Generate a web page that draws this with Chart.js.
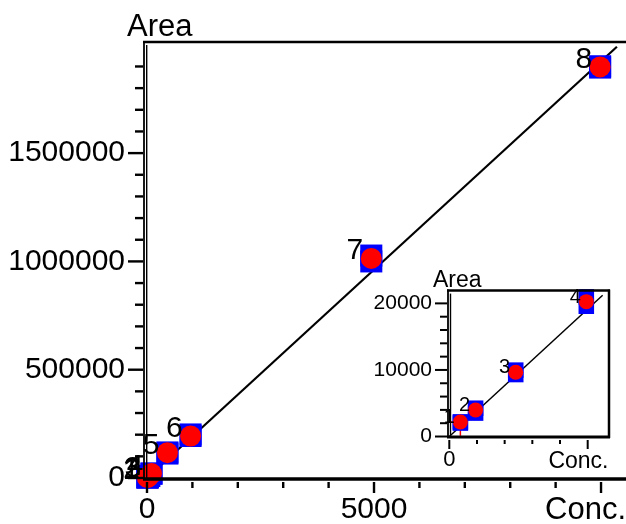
<!DOCTYPE html>
<html>
<head>
<meta charset="utf-8">
<script src="https://cdn.jsdelivr.net/npm/chart.js@4.4.1/dist/chart.umd.min.js"></script>
<style>
body { margin: 0; background: #fff; overflow: hidden; }
#wrap { position: relative; width: 626px; height: 524px; }
#main { position: absolute; left: 0; top: 0; }
#inset { position: absolute; left: 360px; top: 262px; }
</style>
</head>
<body>
<div id="wrap">
<canvas id="main" width="626" height="524"></canvas>
<canvas id="inset" width="266" height="210"></canvas>
</div>
<script>
var pointNames = ['1', '2', '3', '4', '5', '6', '7', '8'];
var conc = [8, 19, 48, 99, 450, 960, 4940, 9980];
var areaMean = [2170, 3990, 9650, 20260, 117000, 194000, 1014000, 1898000];
var areaRep1 = [2200, 4250, 9970, 20970, 118000, 201000, 1027000, 1901000];
var areaRep2 = [2020, 3520, 9310, 19570, 113000, 194000, 1000000, 1895000];

var fitConc = [0, 10350];
var fitArea = [0, 1991000];
var insetFitConc = [0, 110.8];
var insetFitArea = [0, 21230];

// whiskers of point 1 (inset)
var errConc = [-1.2, 8];
var errArea = [100, 2170];

var mainXLabels = [0, 5000];
var mainYLabels = [0, 500000, 1000000, 1500000];
var insetXLabels = [0];
var insetYLabels = [0, 10000, 20000];
var insetCount = 4;

var fam = "'Liberation Sans', Arial, sans-serif";

function pts(xs, ys) {
	return xs.map(function(v, i) { return {x: v, y: ys[i]}; });
}

var frame = {
	id: 'frame',
	afterDatasetsDraw: function(chart, args, o) {
		var ctx = chart.ctx, a = chart.chartArea, xs = chart.scales.x, ys = chart.scales.y;
		ctx.save();
		ctx.strokeStyle = '#000';
		ctx.lineCap = 'butt';
		function seg(x1, y1, x2, y2, w) {
			ctx.lineWidth = w;
			ctx.beginPath();
			ctx.moveTo(x1, y1);
			ctx.lineTo(x2, y2);
			ctx.stroke();
		}
		seg(a.left - 1, a.top, a.right + (o.right ? 1 : 0), a.top, o.borderW);
		if (o.right) seg(a.right, a.top - 1, a.right, a.bottom + 1, o.borderW);
		seg(a.left - 1, a.bottom, a.right + (o.right ? 1 : 0), a.bottom, o.axisW);
		seg(a.left, a.top - 1, a.left, a.bottom + 1, 1.8);
		seg(a.left + o.gap, a.top + 3, a.left + o.gap, a.bottom, 1.4);

		var v, p;
		for (v = 0; v <= o.yMax; v += o.yStep) {
			p = ys.getPixelForValue(v);
			seg(a.left - 1, p, a.left - (o.yMajor.indexOf(v) >= 0 ? o.yMajorLen : o.yMinorLen), p, o.tickW);
		}
		for (v = 0; v <= o.xMax; v += o.xStep) {
			p = xs.getPixelForValue(v);
			seg(p, a.bottom + 3, p, a.bottom + (o.xMajor.indexOf(v) >= 0 ? o.xMajorLen : o.xMinorLen), o.tickW);
		}
		ctx.restore();
	},
	afterDraw: function(chart, args, o) {
		var ctx = chart.ctx, a = chart.chartArea;
		ctx.save();
		ctx.fillStyle = '#000';
		ctx.textBaseline = 'alphabetic';
		ctx.font = o.titleSize + 'px ' + fam;
		ctx.textAlign = 'left';
		ctx.fillText('Area', a.left + o.yTitleDx, a.top + o.yTitleDy);
		ctx.textAlign = 'right';
		ctx.fillText('Conc.', a.right + o.xTitleDx, a.bottom + o.xTitleDy);

		ctx.font = o.numSize + 'px ' + fam;
		chart.getDatasetMeta(0).data.forEach(function(el, i) {
			ctx.fillText(pointNames[i], el.x - o.numDx, el.y + 1);
		});
		ctx.restore();
	}
};

function makeChart(id, n, sq, dot, lw, fx, fy, extra, sc, fo) {
	var xsConc = conc.slice(0, n);
	var datasets = [
		{data: pts(xsConc, areaMean), pointStyle: 'circle', pointRadius: dot,
			pointBackgroundColor: '#ff0000', pointBorderWidth: 0, order: 0, clip: false},
		{data: pts(xsConc, areaRep1).concat(pts(xsConc, areaRep2)), pointStyle: 'rect', pointRadius: sq,
			pointBackgroundColor: '#0000ff', pointBorderWidth: 0, order: 1, clip: false},
		{data: pts(fx, fy), showLine: true, borderColor: '#000', borderWidth: lw,
			pointRadius: 0, order: 2, clip: false}
	].concat(extra);

	return new Chart(document.getElementById(id), {
		type: 'scatter',
		data: {datasets: datasets},
		plugins: [frame],
		options: {
			responsive: false,
			animation: false,
			events: [],
			layout: {padding: sc.pad, autoPadding: false},
			plugins: {legend: {display: false}, tooltip: {enabled: false}, frame: fo},
			scales: {
				x: {
					type: 'linear', min: sc.xMin, max: sc.xMax,
					grid: {display: false, drawTicks: false},
					border: {display: false},
					ticks: {font: {family: fam, size: sc.fontX}, color: '#000', padding: sc.xPad,
						maxRotation: 0, autoSkip: false, callback: function(v) { return String(v); }},
					afterBuildTicks: function(s) { s.ticks = sc.xLabels.map(function(v) { return {value: v}; }); },
					afterFit: function(s) { s.height = sc.xH; }
				},
				y: {
					type: 'linear', min: sc.yMin, max: sc.yMax,
					grid: {display: false, drawTicks: false},
					border: {display: false},
					ticks: {font: {family: fam, size: sc.fontY}, color: '#000', padding: sc.yPad,
						autoSkip: false, callback: function(v) { return String(v); }},
					afterBuildTicks: function(s) { s.ticks = sc.yLabels.map(function(v) { return {value: v}; }); },
					afterFit: function(s) { s.width = sc.yW; }
				}
			}
		}
	});
}

makeChart('main', conc.length, 15.6, 10.5, 2.2, fitConc, fitArea, [], {
	pad: {top: 42, right: 0, left: 0, bottom: 0},
	xMin: -66, xMax: 10550, yMin: -4600, yMax: 2013000,
	xLabels: mainXLabels, yLabels: mainYLabels,
	fontX: 30, fontY: 30, xPad: 13, yPad: 19, xH: 45, yW: 144
}, {
	right: false, borderW: 2.5, axisW: 3.5, gap: 2.7, tickW: 2.4,
	yMajor: mainYLabels, yStep: 100000, yMax: 1900000, yMajorLen: 16, yMinorLen: 9,
	xMajor: [0, 5000, 10000], xStep: 1000, xMax: 10000, xMajorLen: 14, xMinorLen: 9,
	titleSize: 31, yTitleDx: -17, yTitleDy: -6, xTitleDx: 0, xTitleDy: 40,
	numSize: 30, numDx: 8
});

makeChart('inset', insetCount, 11, 7.5, 1.5, insetFitConc, insetFitArea, [
	{data: pts(errConc, [errArea[1], errArea[1]]), showLine: true, borderColor: '#ff0000', borderWidth: 1.5,
		pointRadius: 0, order: 3, clip: false},
	{data: pts([errConc[1], errConc[1]], errArea), showLine: true, borderColor: '#ff0000', borderWidth: 1.5,
		pointRadius: 0, order: 3, clip: false}
], {
	pad: {top: 25, right: 17, left: 0, bottom: 0},
	xMin: -0.94, xMax: 115.4, yMin: -73, yMax: 21920,
	xLabels: insetXLabels, yLabels: insetYLabels,
	fontX: 22, fontY: 21, xPad: 10, yPad: 16, xH: 35, yW: 88
}, {
	right: true, borderW: 2.5, axisW: 3, gap: 2.5, tickW: 2,
	yMajor: insetYLabels, yStep: 2000, yMax: 20000, yMajorLen: 13, yMinorLen: 8,
	xMajor: [0, 100], xStep: 20, xMax: 100, xMajorLen: 12, xMinorLen: 7,
	titleSize: 23, yTitleDx: -15, yTitleDy: -4, xTitleDx: -0.5, xTitleDy: 31,
	numSize: 20, numDx: 5.5
});
</script>
</body>
</html>
